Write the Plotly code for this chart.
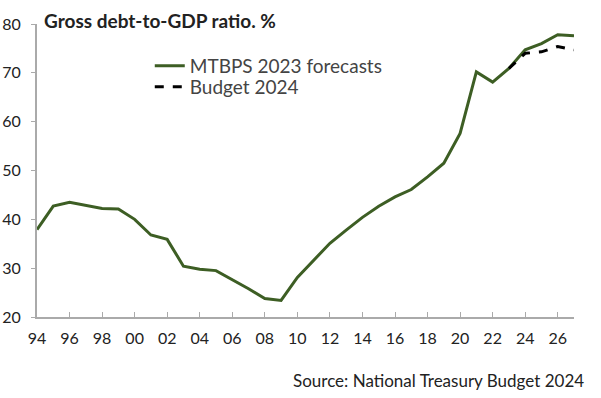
import plotly.graph_objects as go

years = list(range(1994, 2028))
mtbps = [37.9, 42.7, 43.5, 42.8, 42.2, 42.1, 40.0, 36.8, 35.9, 30.4,
         29.8, 29.5, 27.7, 25.8, 23.8, 23.4, 28.1, 31.6, 35.1, 37.8,
         40.4, 42.7, 44.6, 46.1, 48.7, 51.5, 57.6, 70.2, 68.1, 70.9,
         74.7, 76.0, 77.8, 77.6]
budget_years = [2023, 2024, 2025, 2026, 2027]
budget = [70.9, 74.0, 74.3, 75.4, 74.7]
xtick_vals = list(range(1994, 2027, 2))
xtick_text = [f"{y % 100:02d}" for y in xtick_vals]
ytick_vals = [20, 30, 40, 50, 60, 70, 80]

FONT = "Lato"
fig = go.Figure()
fig.add_trace(go.Scatter(x=years, y=mtbps, mode="lines", name="MTBPS 2023 forecasts",
                         line=dict(color="#3d5e24", width=3), legend="legend"))
fig.add_trace(go.Scatter(x=budget_years, y=budget, mode="lines", name="Budget 2024",
                         line=dict(color="#000000", width=3, dash="dash"), legend="legend2"))

leg_common = dict(xanchor="left", yanchor="middle", bgcolor="rgba(0,0,0,0)",
                  font=dict(size=19, color="#444444"), itemwidth=30)

fig.update_layout(
    width=601, height=398,
    margin=dict(l=37, r=27, t=24, b=81),
    plot_bgcolor="white", paper_bgcolor="white",
    font=dict(family=FONT, size=15, color="#222222"),
    showlegend=True,
    hovermode=False,
    legend=dict(x=0.21, y=0.857, **leg_common),
    legend2=dict(x=0.21, y=0.785, **leg_common),
    xaxis=dict(range=[1994, 2027], tickvals=xtick_vals, ticktext=xtick_text,
               showgrid=False, zeroline=False, showline=True, linecolor="#aaaaaa",
               linewidth=2, ticks="inside", ticklen=5, tickcolor="#aaaaaa",
               automargin=False, ticklabelstandoff=6,
               tickfont=dict(size=16, color="#222222")),
    yaxis=dict(range=[20, 80], tickvals=ytick_vals, showgrid=False, zeroline=False,
               showline=True, linecolor="#aaaaaa", linewidth=2, ticks="outside",
               ticklen=4, tickcolor="#aaaaaa", automargin=False, ticklabelstandoff=7,
               tickfont=dict(size=16, color="#222222")),
    annotations=[
        dict(text="<b>Gross debt-to-GDP ratio. %</b>", xref="paper", yref="paper",
             x=0, y=1, xanchor="left", yanchor="middle", xshift=5, yshift=4,
             showarrow=False, font=dict(size=19, color="#222222")),
        dict(text="Source: National Treasury Budget 2024", xref="paper", yref="paper",
             x=1, y=0, xanchor="right", yanchor="middle", xshift=12, yshift=-63,
             showarrow=False, font=dict(size=17, color="#222222")),
    ],
)
fig.write_html("out.html", config={"displayModeBar": False},
               post_script="document.body.style.margin='0';document.body.style.overflow='hidden';")
